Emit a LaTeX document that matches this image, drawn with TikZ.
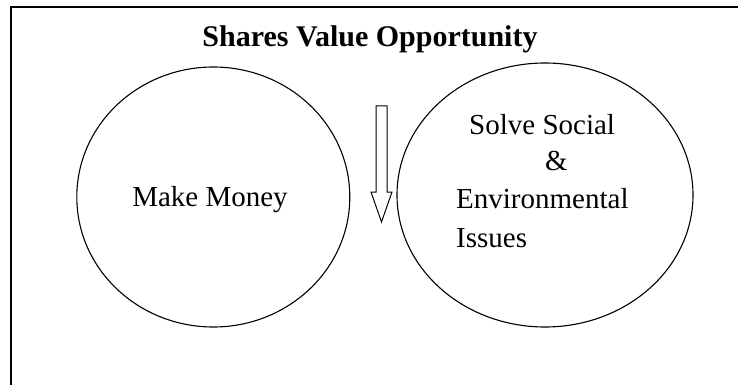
\documentclass[tikz,border=0pt]{standalone}
\usepackage{fontspec}
\setmainfont{Liberation Serif}
\usetikzlibrary{shapes.geometric}
\begin{document}
\begin{tikzpicture}[x=1pt,y=-1pt,
  frame/.style={line width=1.3pt},
  bubble/.style={draw, ellipse, line width=1.1pt, inner sep=0pt},
  txt/.style={inner sep=0pt, font=\fontsize{29}{35}\selectfont},
  ttl/.style={inner sep=0pt, font=\fontsize{30}{36}\selectfont\bfseries},
  hollowarrow/.style={draw, line width=1pt, line join=miter}]
\useasboundingbox (0,0) rectangle (738,385);
\coordinate (fbl) at (11,386);
\coordinate (ftl) at (11,7);
\coordinate (ftr) at (739,7);
\draw[frame] (fbl) -- (ftl) -- (ftr);
\node[ttl, anchor=base] (title) at (370,46.5) {Shares Value Opportunity};
\node[bubble, minimum width=273pt, minimum height=260pt] (money) at (213.3,197) {};
\node[bubble, minimum width=296pt, minimum height=264pt] (social) at (545,195) {};
\node[txt, anchor=base] (moneytxt) at (210,206.5) {Make Money};
\node[txt, anchor=base west] (s1) at (469,135) {Solve Social};
\node[txt, anchor=base west] (s2) at (545,170) {\&};
\node[txt, anchor=base west] (s3) at (456,208) {Environmental};
\node[txt, anchor=base west] (s4) at (456,247) {Issues};
\draw[hollowarrow] (376,106) -- (387,106) -- (387,192) -- (392,192) -- (381.5,222) -- (371,192) -- (376,192) -- cycle;
\end{tikzpicture}
\end{document}
